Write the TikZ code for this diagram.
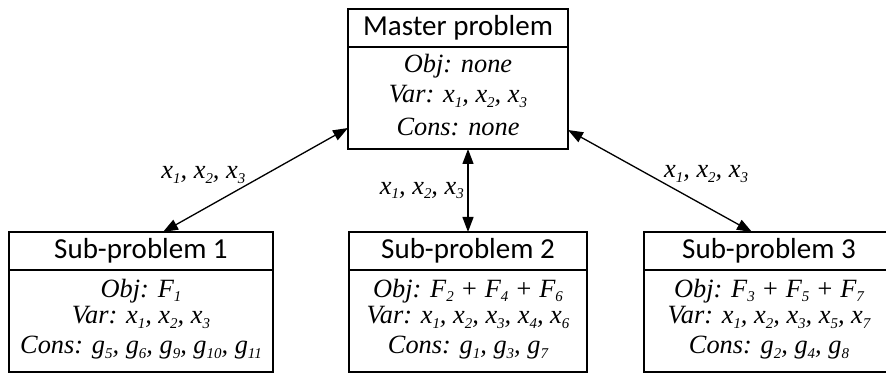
\documentclass[tikz,border=0pt]{standalone}
\usepackage{fontspec}
\setmainfont{Liberation Serif}
\newfontfamily\titlefont{Carlito}
\usetikzlibrary{positioning,arrows.meta}
\newcommand{\ix}[1]{\raisebox{-0.4ex}{\fontsize{8.5}{9}\selectfont #1}}

\begin{document}
\begin{tikzpicture}[every node/.style={font=\fontsize{15}{15}\selectfont\itshape}]
  \tikzset{
    head/.style={draw, line width=1pt, outer sep=0pt, inner sep=0pt, minimum height=0.76cm, font=\titlefont\fontsize{16.5}{18}\selectfont},
    body/.style={draw, line width=1pt, outer sep=0pt, inner sep=0pt, minimum height=2.04cm, align=center,
      execute at end node={\rule[-#1]{0pt}{0pt}}},
    body/.default=0.2cm,
    link/.style={<->, line width=0.75pt, >={Triangle[length=0.3cm, width=0.22cm]}},
    lbl/.style={inner sep=2pt}
  }
  \useasboundingbox (0,0) rectangle (17.72,7.48);

  % Master problem
  \node[head, minimum width=4.4cm] (mHead) at (9.16,6.92) {Master problem};
  \node[body=0.12cm, minimum width=4.4cm, below=0pt of mHead] (mBody)
    {Obj: none\\[2pt] Var: x\ix{1}, x\ix{2}, x\ix{3}\\[4pt] Cons: none};

  % Sub-problems
  \node[head, minimum width=5.28cm] (s1Head) at (2.82,2.46) {Sub-problem 1};
  \node[body, minimum width=5.28cm, below=0pt of s1Head] (s1Body)
    {Obj: F\ix{1}\\ Var: x\ix{1}, x\ix{2}, x\ix{3}\\[2pt] Cons: g\ix{5}, g\ix{6}, g\ix{9}, g\ix{10}, g\ix{11}};

  \node[head, minimum width=4.76cm] (s2Head) at (9.36,2.46) {Sub-problem 2};
  \node[body, minimum width=4.76cm, below=0pt of s2Head] (s2Body)
    {Obj: F\ix{2} + F\ix{4} + F\ix{6}\\ Var: x\ix{1}, x\ix{2}, x\ix{3}, x\ix{4}, x\ix{6}\\[2pt] Cons: g\ix{1}, g\ix{3}, g\ix{7}};

  \node[head, minimum width=5cm] (s3Head) at (15.38,2.46) {Sub-problem 3};
  \node[body, minimum width=5cm, below=0pt of s3Head] (s3Body)
    {Obj: F\ix{3} + F\ix{5} + F\ix{7}\\ Var: x\ix{1}, x\ix{2}, x\ix{3}, x\ix{5}, x\ix{7}\\[2pt] Cons: g\ix{2}, g\ix{4}, g\ix{8}};

  % Links
  \draw[link] ([yshift=-0.6cm]mBody.west) -- node[lbl, midway, left, xshift=-0.12cm, yshift=0.1cm] (l1) {x\ix{1}, x\ix{2}, x\ix{3}} ([xshift=0.44cm]s1Head.north);
  \draw[link] (s2Head.north |- mBody.south) -- node[lbl, midway, left] (l2) {x\ix{1}, x\ix{2}, x\ix{3}} (s2Head.north);
  \draw[link] ([yshift=-0.64cm]mBody.east) -- node[lbl, midway, right, yshift=0.14cm] (l3) {x\ix{1}, x\ix{2}, x\ix{3}} ([xshift=-0.34cm]s3Head.north);
\end{tikzpicture}
\end{document}
